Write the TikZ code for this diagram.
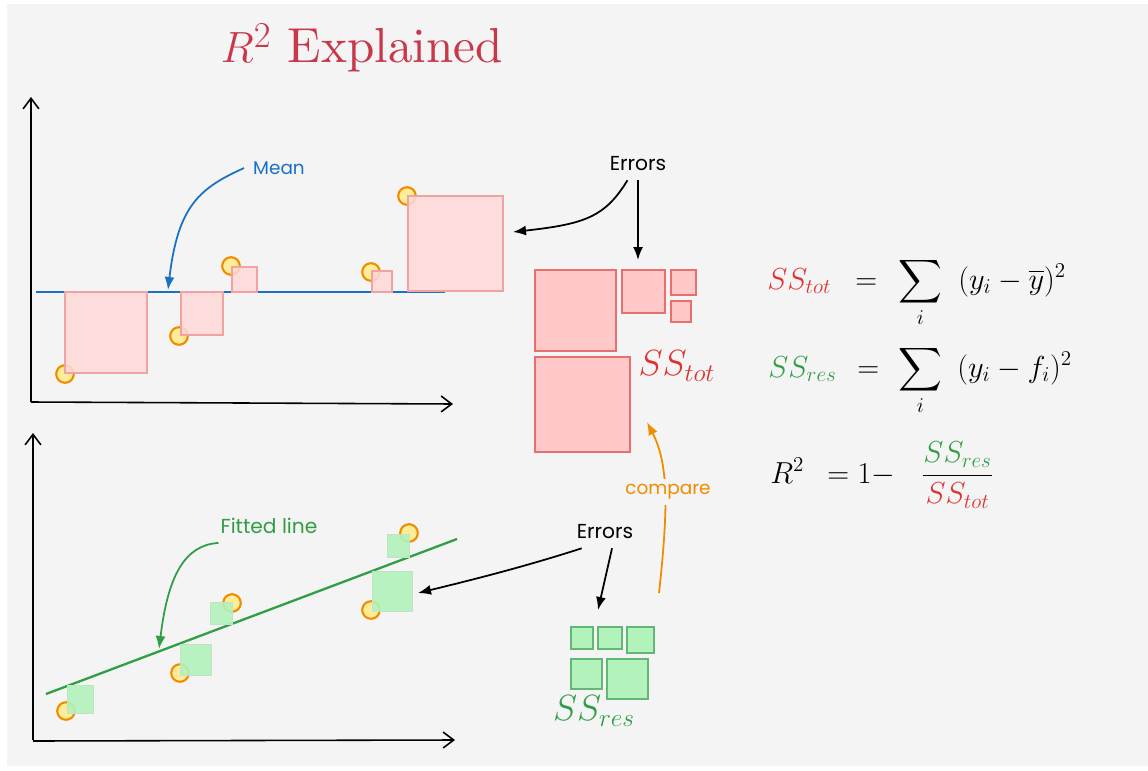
\documentclass[tikz,border=0pt]{standalone}
\usepackage{exscale}
\usepackage{fontspec}
\newfontfamily\handfont{Poppins}
\newfontfamily\titlefont{lmroman10-regular.otf}
\usepackage{tikz}
\usetikzlibrary{arrows.meta}
\definecolor{bgray}{HTML}{F3F4F3}
\definecolor{titlered}{HTML}{C8374A}
\definecolor{ssred}{HTML}{E03131}
\definecolor{ssgreen}{HTML}{2F9E44}
\definecolor{meanblue}{HTML}{1971C2}
\definecolor{ptorange}{HTML}{F08C00}
\definecolor{ptyellow}{HTML}{FFEC99}
\definecolor{sqpink}{HTML}{FFC9C9}
\definecolor{sqgreen}{HTML}{B2F2BB}

\begin{document}
\begin{tikzpicture}[x=0.02cm,y=-0.02cm,
axis/.style={line width=0.9pt,-{Straight Barb[length=6pt,width=9pt]}},
arr/.style={line width=1pt,-{Latex[length=2.6mm,width=2mm]}},
hand/.style={font=\handfont\fontsize{10.5}{12}\selectfont,inner sep=5pt},
bighand/.style={hand,font=\handfont\fontsize{11.5}{13}\selectfont},
eqn/.style={anchor=base west,inner sep=0pt,font=\fontsize{18}{22}\selectfont},
pt/.style={draw=ptorange,fill=ptyellow,line width=1.2pt},
redsq/.style={draw=ssred!45,fill=sqpink!70,fill opacity=0.85,line width=0.6pt},
totsq/.style={draw=ssred!70,fill=sqpink,line width=0.7pt},
grnsq/.style={draw=ssgreen!30,fill=sqgreen,fill opacity=0.9,line width=0.5pt},
ressq/.style={draw=ssgreen!75,fill=sqgreen,line width=0.7pt}
]
\useasboundingbox (0,0) rectangle (1148,770);
\fill[white] (0,0) rectangle (1148,770);
\fill[bgray] (7,4) rectangle (1148,766);

% title
\node[font=\titlefont\fontsize{28}{31}\selectfont,text=titlered] (title) at (362,48)
{$R^2$ Explained};

% top chart: mean
\draw[axis] (31,402) -- (31,97);
\draw[axis] (31,402) -- (453,404);
\draw[meanblue,line width=1.3pt] (36,292) -- (445,292);
\foreach \x/\y in {65/374,179/336,231/266,371/272,407/196}
\draw[pt] (\x,\y) circle[radius=5pt];
\foreach \a/\b/\c/\d in {65/292/147/373,181/292/223/335,232/267/257/292,
372/271/392/292,408/196/503/291}
\draw[redsq] (\a,\b) rectangle (\c,\d);
\node[hand,text=meanblue] (mean) at (279,168) {Mean};
\coordinate (meantip) at (168,290);
\draw[arr,meanblue] (mean.west) .. controls (200,188) and (178,205) .. (meantip);

% top errors -> SS_tot
\foreach \a/\b/\c/\d in {535/270/616/351,622/270/665/313,671/270/696/295,
671/301/691/322,535/357/630/452}
\draw[totsq] (\a,\b) rectangle (\c,\d);
\node[text=ssred,font=\fontsize{20}{24}\selectfont] (sstotlbl) at (677,366) {$SS_{tot}$};
\node[bighand] (errtop) at (638,164) {Errors};
\coordinate (bigtip) at (513,232);
\coordinate (tottip) at (638,260);
\draw[arr] ([xshift=-6pt]errtop.south) .. controls (605,217) and (585,224) .. (bigtip);
\draw[arr] (errtop.south) -- (tottip);

% bottom chart: fitted line
\draw[axis] (33,740) -- (33,433);
\draw[axis] (33,741) -- (455,740);
\foreach \x/\y in {66/711,180/673,232/603,371/610,409/533}
\draw[pt] (\x,\y) circle[radius=5pt];
\draw[ssgreen,line width=1.3pt] (46,694) -- (457,539);
\foreach \a/\b/\c/\d in {67/685/93/713,180/644/211/675,210/602/232/624,
372/571/412/611,387/534/409/557}
\draw[grnsq] (\a,\b) rectangle (\c,\d);
\node[bighand,text=ssgreen] (fit) at (269,526) {Fitted line};
\coordinate (fittip) at (159,649);
\draw[arr,ssgreen] ([xshift=4pt]fit.south west) .. controls (185,545) and (168,575) .. (fittip);

% bottom errors -> SS_res
\foreach \a/\b/\c/\d in {571/627/593/649,598/627/622/649,627/627/654/653,
571/659/602/689,607/659/648/699}
\draw[ressq] (\a,\b) rectangle (\c,\d);
\node[text=ssgreen,font=\fontsize{20}{24}\selectfont] (ssreslbl) at (594,711) {$SS_{res}$};
\node[bighand] (errbot) at (605,532) {Errors};
\coordinate (ptstip) at (418,593);
\coordinate (restip) at (598,610);
\draw[arr] ([xshift=8pt]errbot.south west) .. controls (530,565) and (480,578) .. (ptstip);
\draw[arr] ([xshift=4pt]errbot.south) -- (restip);

% compare
\coordinate (cmpfrom) at (659,593);
\coordinate (cmpto) at (647,422);
\draw[arr,ptorange] (cmpfrom) .. controls (668,510) and (669,465) .. (cmpto);
\node[hand,text=ptorange,fill=bgray,inner sep=3pt] (cmp) at (668,492) {compare};

% formulas
\node[eqn] (sstot) at (767,289) {$\color{ssred}SS_{tot}$};
\node[eqn] (eq1) at (855,289) {$=$};
\node[eqn] (sum1) at (898,289) {$\displaystyle\sum_i$};
\node[eqn] (rhs1) at (958,289) {$(y_i-\overline{y})^2$};
\node[eqn] (ssres) at (768,377) {$\color{ssgreen}SS_{res}$};
\node[eqn] (eq2) at (857,377) {$=$};
\node[eqn] (sum2) at (898,377) {$\displaystyle\sum_i$};
\node[eqn] (rhs2) at (957,377) {$(y_i-f_i)^2$};
\node[eqn] (rsq) at (770,483) {$R^2$};
\node[eqn] (eq3) at (827,483) {$=1-$};
\node[eqn] (frac) at (921,483)
{$\displaystyle\frac{\color{ssgreen}SS_{res}}{\color{ssred}SS_{tot}}$};
\end{tikzpicture}
\end{document}
